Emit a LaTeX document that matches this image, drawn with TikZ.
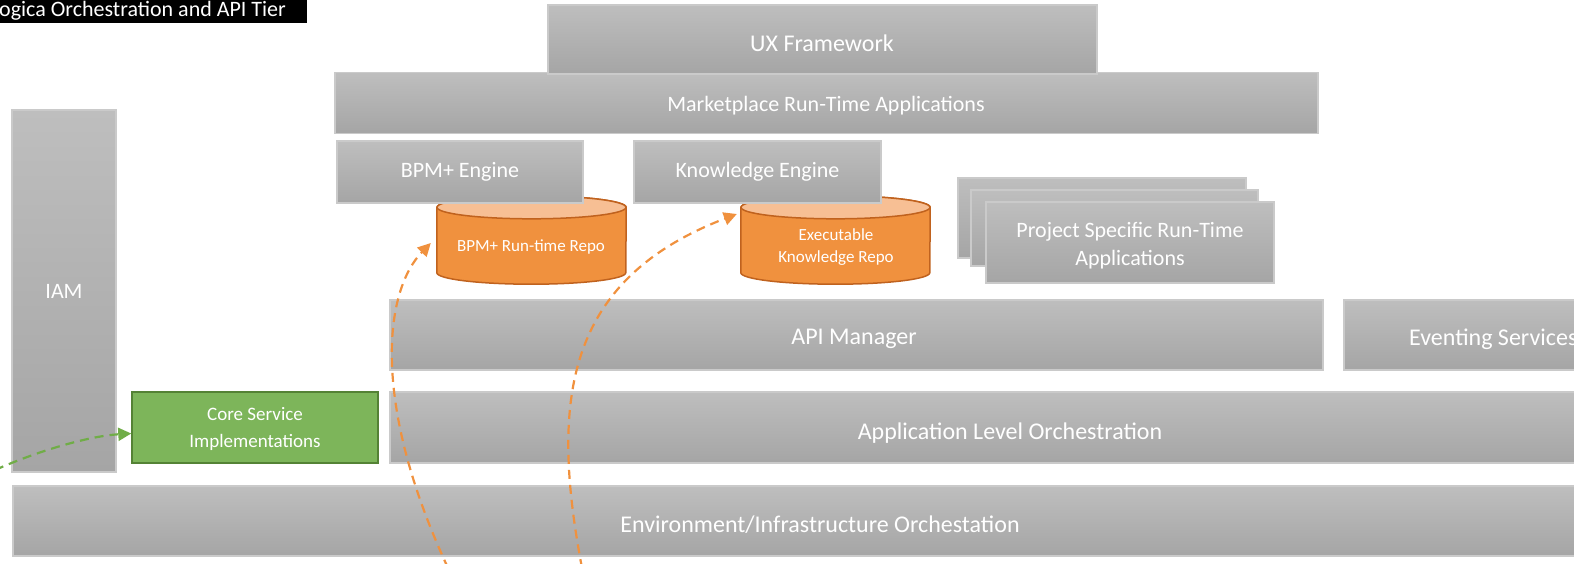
\documentclass[tikz,border=0pt]{standalone}
\usepackage{fontspec}
\setmainfont{Carlito}
\usetikzlibrary{arrows.meta}
\definecolor{gtop}{HTML}{BEBEBE}
\definecolor{gbot}{HTML}{A5A5A5}
\definecolor{gline}{HTML}{CACACA}
\definecolor{orfill}{HTML}{F0913E}
\definecolor{ortop}{HTML}{F7BF94}
\definecolor{orline}{HTML}{C0621E}
\definecolor{grfill}{HTML}{7DB55A}
\definecolor{grline}{HTML}{548235}
\definecolor{grarrow}{HTML}{70AD47}
\begin{document}
\begin{tikzpicture}[x=1pt,y=-1pt,
  graybox/.style={draw=gline,line width=1.5pt,top color=gtop,bottom color=gbot,text=white,
    font=\fontsize{22}{26}\selectfont,inner sep=0pt,align=center},
  bigtext/.style={text=white,font=\fontsize{24}{28}\selectfont,inner sep=0pt},
  greenbox/.style={draw=grline,line width=1.5pt,fill=grfill,text=white,
    font=\fontsize{19}{24}\selectfont,inner sep=0pt,align=center},
  repotext/.style={text=white,font=\fontsize{17}{21}\selectfont,align=center,inner sep=0pt},
  orarrow/.style={draw=orfill,line width=2.2pt,dash pattern=on 9pt off 6pt,
    -{Triangle[length=13pt,width=13pt,fill=orfill]}},
  grarr/.style={draw=grarrow,line width=2.2pt,dash pattern=on 9pt off 6pt,
    -{Triangle[length=13pt,width=13pt,fill=grarrow]}},
]
\useasboundingbox (0,0) rectangle (1574,563);
\clip (0,0) rectangle (1574,563);

% title label
\node[fill=black,anchor=north west,minimum width=307pt,minimum height=23pt,inner sep=0pt] (title) at (0,0) {};
\node[text=white,anchor=base west,inner sep=0pt,font=\fontsize{22}{24}\selectfont] (titletext) at (-1,16.5) {ogica Orchestration and API Tier};

% cylinders (behind engines)
\node[repotext,minimum width=189pt,minimum height=88pt] (repo1) at (531.5,240) {};
\node[repotext,minimum width=189pt,minimum height=88pt] (repo2) at (835.5,240) {};
\foreach \n in {repo1,repo2}{
  \path[fill=orfill,draw=orline,line width=1.5pt]
    ([yshift=-11.5pt]\n.north west) -- ([yshift=11.5pt]\n.south west)
    arc[start angle=180,end angle=360,x radius=94.5pt,y radius=11.5pt]
    -- ([yshift=-11.5pt]\n.north east)
    arc[start angle=0,end angle=180,x radius=94.5pt,y radius=11.5pt] -- cycle;
  \path[fill=ortop,draw=orline,line width=1.5pt]
    ([yshift=-11.5pt]\n.north) ellipse[x radius=94.5pt,y radius=11.5pt];
}
\node[repotext] at (531,247) {BPM+ Run-time Repo};
\node[repotext] at (836,247) {Executable\\[1pt]Knowledge Repo};

% top layers
\node[graybox,minimum width=983pt,minimum height=61pt] (market) at (826.5,103) {};
\node[graybox,minimum width=549pt,minimum height=69pt] (ux) at (822.5,39.5) {};
\node[bigtext] (uxt) at (822,43) {UX Framework};
\node[text=white,font=\fontsize{22}{26}\selectfont] (markett) at (826,106) {Marketplace Run-Time Applications};

\node[graybox,minimum width=246pt,minimum height=62pt] (bpm) at (460,172) {BPM+ Engine};
\node[graybox,minimum width=247pt,minimum height=62pt] (ke) at (757.5,172) {Knowledge Engine};

% stacked project apps
\node[graybox,minimum width=288pt,minimum height=80pt] (p1) at (1102,218) {};
\node[graybox,minimum width=287pt,minimum height=76pt] (p2) at (1114.5,228) {};
\node[graybox,minimum width=288pt,minimum height=81pt] (p3) at (1130,242.5) {};
\node[text=white,font=\fontsize{22}{26}\selectfont,align=center,inner sep=0pt] (p3t) at (1130,246) {Project Specific Run-Time\\[2pt]Applications};

% IAM
\node[graybox,minimum width=104pt,minimum height=362pt] (iam) at (64,291) {IAM};

% API manager, eventing
\node[graybox,minimum width=933pt,minimum height=70pt] (api) at (856.5,335) {};
\node[bigtext] (apit) at (854,339) {API Manager};
\node[graybox,minimum width=260pt,minimum height=70pt,anchor=west] (event) at (1343,335) {};
\node[bigtext,anchor=west] (eventt) at (1409,339) {Eventing Services};

% core service and app orchestration
\node[greenbox,minimum width=246pt,minimum height=71pt] (core) at (255,427.5) {};
\node[text=white,font=\fontsize{19}{24}\selectfont,align=center,inner sep=0pt] (coret) at (255,429) {Core Service\\[3pt]Implementations};
\node[graybox,minimum width=1210pt,minimum height=71pt,anchor=west] (appo) at (389,427.5) {};
\node[bigtext] (appot) at (1010,433) {Application Level Orchestration};

% environment
\node[graybox,minimum width=1590pt,minimum height=70pt,anchor=west] (env) at (12,521) {};
\node[bigtext] (envt) at (820,525) {Environment/Infrastructure Orchestation};

% connectors
\coordinate (g0) at (-5,470);
\coordinate (o1) at (448,568);
\coordinate (o2) at (582,568);
\draw[grarr] (g0) .. controls (40,450) and (90,436) .. ([yshift=-6pt]core.west);
\draw[orarrow] (o1) .. controls (370,400) and (385,290) .. ([xshift=-6pt,yshift=-3pt]repo1.west);
\draw[orarrow] (o2) .. controls (550,400) and (565,280) .. ([xshift=-4pt,yshift=26pt]repo2.west);
\end{tikzpicture}
\end{document}
